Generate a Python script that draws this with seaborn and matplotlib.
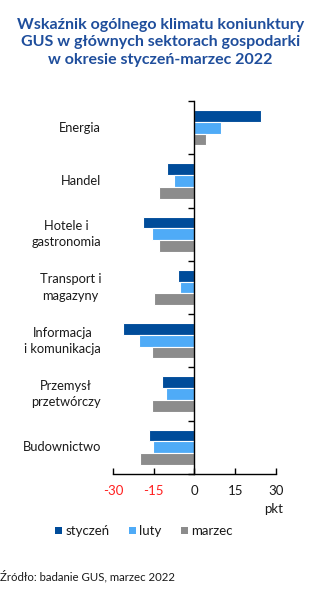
import matplotlib
matplotlib.use("Agg")
import matplotlib.pyplot as plt
import matplotlib.transforms as mtransforms
from matplotlib.patches import Patch
import seaborn as sns
import pandas as pd

categories = ["Energia", "Handel", "Hotele i\ngastronomia", "Transport i\nmagazyny",
              "Informacja\ni komunikacja", "Przemysł\nprzetwórczy", "Budownictwo"]
months = ["styczeń", "luty", "marzec"]
styczen = [24.3, -10.2, -19.1, -6.0, -26.2, -12.1, -16.7]
luty = [9.6, -7.4, -15.8, -5.3, -20.4, -10.5, -15.4]
marzec = [4.4, -13.0, -13.0, -14.8, -15.8, -15.8, -20.1]
xticks = [-30, -15, 0, 15, 30]
colors = ["#004C9A", "#4FABF7", "#8C8C8C"]

rows = []
for m, vals in zip(months, [styczen, luty, marzec]):
    for c, v in zip(categories, vals):
        rows.append({"cat": c, "month": m, "val": v})
df = pd.DataFrame(rows)

sns.set_style("white")
plt.rcParams['font.family'] = ['Lato', 'DejaVu Sans']

fig = plt.figure(figsize=(3.21, 5.90), dpi=100)
ax = fig.add_axes([113/321, 1-474/590, (276-113)/321, (474-101)/590])

sns.barplot(data=df, y="cat", x="val", hue="month", order=categories, hue_order=months,
            palette=colors, orient="h", width=0.66, ax=ax, legend=False,
            edgecolor="white", linewidth=0.8, saturation=1)

ax.set_xlim(-30, 30)
ax.set_ylim(len(categories) - 0.5, -0.5)
ax.set_xlabel("")
ax.set_ylabel("")

for s in ["top", "right"]:
    ax.spines[s].set_visible(False)
ax.spines["left"].set_position(("data", 0))
ax.spines["left"].set_color("black")
ax.spines["bottom"].set_color("black")
ax.spines["left"].set_linewidth(1.0)
ax.spines["bottom"].set_linewidth(1.0)

ax.set_yticks([i - 0.5 for i in range(len(categories) + 1)])
ax.set_yticklabels([])
ax.tick_params(axis="y", direction="out", length=4, width=1, color="black", left=True)
ax.set_xticks(xticks)
ax.set_xticklabels([str(t) for t in xticks])
ax.tick_params(axis="x", direction="in", length=4, width=1, color="black", bottom=True,
               labelsize=9.5, pad=8)
for lbl, t in zip(ax.get_xticklabels(), xticks):
    lbl.set_color("#FF2020" if t < 0 else "#1a1a1a")

trans = mtransforms.blended_transform_factory(fig.transFigure, ax.transData)
for i, c in enumerate(categories):
    ax.text(101/321, i, c, transform=trans, ha="right", va="center", multialignment="center",
            fontsize=9.3, color="#1a1a1a", linespacing=1.45)

fig.text(283/321, 1-509/590, "pkt", ha="right", va="center", fontsize=9.5, color="#1a1a1a")

fig.suptitle("Wskaźnik ogólnego klimatu koniunktury\nGUS w głównych sektorach gospodarki\nw okresie styczeń-marzec 2022",
             x=0.5, y=1-18/590, va="top", ha="center", fontsize=11.5, fontweight="bold",
             color="#1F4E9C", linespacing=1.3)

handles = [Patch(facecolor=c, edgecolor="none") for c in colors]
fig.legend(handles, months, loc="center", bbox_to_anchor=(144/321, 1-531/590), ncol=3,
           frameon=False, fontsize=9.5, handlelength=0.5, handleheight=0.5,
           handletextpad=0.25, columnspacing=1.5, labelcolor="#1a1a1a")

fig.text(0, 1-576/590, "Źródło: badanie GUS, marzec 2022", ha="left", va="center",
         fontsize=8.2, color="#1a1a1a")

fig.savefig("out.png", dpi=100)
